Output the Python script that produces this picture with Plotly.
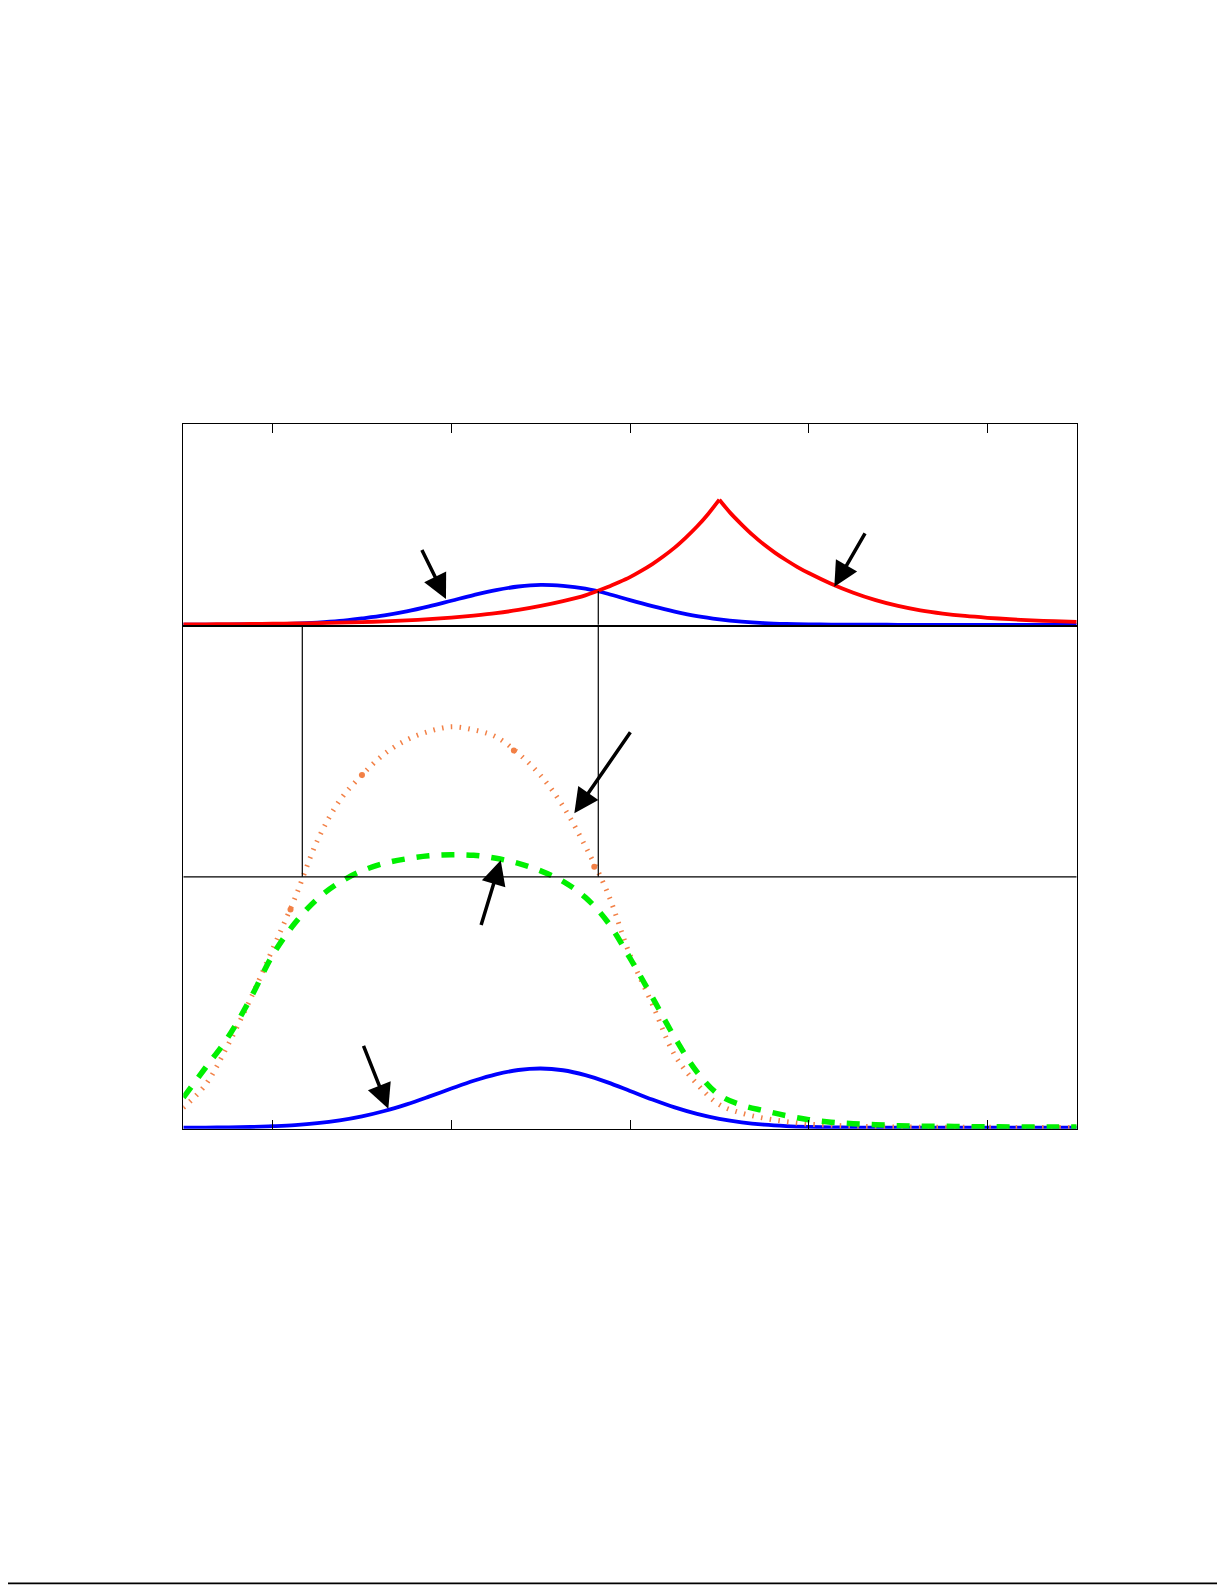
import plotly.graph_objects as go

# ---------------- data ----------------
x_grid = [0.0, 0.25, 0.5, 0.75, 1.0, 1.25, 1.5, 1.75, 2.0, 2.25, 2.5, 2.75,
          3.0, 3.25, 3.5, 3.75, 4.0, 4.25, 4.5, 4.75, 5.0, 5.25, 5.5, 5.75,
          6.0, 6.25, 6.5, 6.75, 7.0, 7.25, 7.5, 7.75, 8.0, 8.25, 8.5, 8.75,
          9.0, 9.25, 9.5, 9.75, 10.0]

# upper panel
top_blue = [0.0004, 0.0006, 0.0012, 0.002, 0.0035, 0.006, 0.011, 0.019, 0.032,
            0.047, 0.067, 0.092, 0.12, 0.148, 0.173, 0.191, 0.199, 0.194,
            0.18, 0.155, 0.123, 0.093, 0.066, 0.043, 0.027, 0.016, 0.0088,
            0.0046, 0.0022, 0.001, 0.0004, 0.0002, 0.0001, 0, 0, 0, 0, 0, 0,
            0, 0]

# red curve: rising part and falling part (they share the peak at x = 6)
red_rise_x = [0.0, 0.25, 0.5, 0.75, 1.0, 1.25, 1.5, 1.75, 2.0, 2.25, 2.5, 2.75,
              3.0, 3.25, 3.5, 3.75, 4.0, 4.25, 4.5, 4.75, 4.875, 5.0, 5.125,
              5.25, 5.375, 5.5, 5.625, 5.75, 5.875, 6.0]
red_rise_y = [0.002, 0.0025, 0.0032, 0.004, 0.0051, 0.0065, 0.0083, 0.0105,
              0.0134, 0.017, 0.022, 0.028, 0.036, 0.046, 0.058, 0.074, 0.094,
              0.118, 0.147, 0.188, 0.212, 0.238, 0.269, 0.303, 0.342, 0.385,
              0.435, 0.49, 0.553, 0.624]
red_fall_x = [6.0, 6.125, 6.25, 6.375, 6.5, 6.625, 6.75, 6.875, 7.0, 7.25, 7.5,
              7.75, 8.0, 8.25, 8.5, 8.75, 9.0, 9.25, 9.5, 9.75, 10.0]
red_fall_y = [0.624, 0.557, 0.500, 0.447, 0.400, 0.359, 0.322, 0.288, 0.258,
              0.205, 0.160, 0.123, 0.094, 0.072, 0.056, 0.044, 0.035, 0.028,
              0.022, 0.018, 0.015]

# lower panel
bot_blue = [0.0002, 0.0003, 0.0006, 0.0014, 0.003, 0.0052, 0.0089, 0.0146,
            0.0226, 0.0333, 0.0466, 0.0619, 0.078, 0.0935, 0.1064, 0.115,
            0.118, 0.1145, 0.1048, 0.0903, 0.0733, 0.0561, 0.0404, 0.0275,
            0.0176, 0.0106, 0.006, 0.0032, 0.0016, 0.0007, 0.0003, 0.0001,
            0, 0, 0, 0, 0, 0, 0, 0, 0]
bot_orange = [0.04, 0.086, 0.165, 0.256, 0.356, 0.458, 0.572, 0.652, 0.703,
              0.745, 0.773, 0.79, 0.799, 0.793, 0.779, 0.746, 0.702, 0.641,
              0.561, 0.468, 0.344, 0.246, 0.145, 0.087, 0.046, 0.029, 0.019,
              0.012, 0.007, 0.005, 0.003, 0.002, 0.0015, 0.001, 0.001, 0.001,
              0.001, 0.0005, 0.0005, 0.0005, 0.0005]
bot_green = [0.06, 0.12, 0.18, 0.257, 0.344, 0.408, 0.456, 0.489, 0.512,
             0.527, 0.536, 0.542, 0.544, 0.543, 0.537, 0.527, 0.512, 0.491,
             0.459, 0.41, 0.338, 0.26, 0.18, 0.111, 0.065, 0.045, 0.034,
             0.024, 0.016, 0.011, 0.008, 0.006, 0.004, 0.003, 0.003, 0.002,
             0.002, 0.0015, 0.0015, 0.0015, 0.0015]

orange_dot_x = [1.2, 2.0, 3.7, 4.6]
orange_dot_y = [0.435, 0.703, 0.752, 0.52]

tick_vals = [1, 3, 5, 7, 9]

guide_x = [1.332, 4.645]      # vertical guide lines
top_guide_y = 0.168           # height of the guide in the upper panel
mid_level = 0.5               # horizontal guide in the lower panel

arrow_panel = ["top", "top", "bottom", "bottom", "bottom"]
arrow_tip_x = [2.94, 7.287, 4.377, 3.553, 2.295]
arrow_tip_y = [0.129, 0.19, 0.627, 0.533, 0.038]
arrow_tail_x = [2.668, 7.634, 5.008, 3.332, 2.015]
arrow_tail_y = [0.376, 0.459, 0.789, 0.403, 0.164]

# ---------------- styles ----------------
BLUE = "rgb(0,0,255)"
RED = "rgb(255,0,0)"
GREEN = "rgb(0,240,0)"
ORANGE = "rgb(242,128,70)"

# the page body adds an 8 px offset; size/positions compensate for it
OFF = 8
W, H = 1225 - OFF, 1585 - OFF
X_DOM = [(183.3 - OFF) / W, (1076.7 - OFF) / W]
TOP_DOM = [1 - (626 - OFF) / H, 1 - (424.3 - OFF) / H]
BOT_DOM = [1 - (1128.7 - OFF) / H, 1 - (626 - OFF) / H]
RULE_Y = 1 - (1583.4 - OFF) / H

fig = go.Figure()

fig.add_trace(go.Scatter(x=x_grid, y=top_blue, mode="lines", xaxis="x", yaxis="y",
                         line=dict(color=BLUE, width=3.8, shape="spline"), showlegend=False))
for rx, ry in ((red_rise_x, red_rise_y), (red_fall_x, red_fall_y)):
    fig.add_trace(go.Scatter(x=rx, y=ry, mode="lines", xaxis="x", yaxis="y",
                             line=dict(color=RED, width=3.8, shape="spline", smoothing=0.8),
                             showlegend=False))

fig.add_trace(go.Scatter(x=x_grid, y=bot_blue, mode="lines", xaxis="x2", yaxis="y2",
                         line=dict(color=BLUE, width=3.8, shape="spline"), showlegend=False))
fig.add_trace(go.Scatter(x=x_grid, y=bot_orange, mode="lines", xaxis="x2", yaxis="y2",
                         line=dict(color=ORANGE, width=5, dash="1.5px,7.3px", shape="spline"),
                         showlegend=False))
fig.add_trace(go.Scatter(x=x_grid, y=bot_green, mode="lines", xaxis="x2", yaxis="y2",
                         line=dict(color=GREEN, width=5.5, dash="13px,12px", shape="spline"),
                         showlegend=False))
fig.add_trace(go.Scatter(x=orange_dot_x, y=orange_dot_y, mode="markers", xaxis="x2", yaxis="y2",
                         marker=dict(color=ORANGE, size=6, line=dict(width=0)), showlegend=False))

# guide lines
LINE = dict(color="black", width=1.2)
fig.add_shape(type="line", xref="x", yref="y", x0=guide_x[1], x1=guide_x[1],
              y0=0, y1=top_guide_y, line=LINE)
for gx in guide_x:
    fig.add_shape(type="line", xref="x2", yref="y2", x0=gx, x1=gx,
                  y0=mid_level, y1=1, line=LINE)
fig.add_shape(type="line", xref="x2", yref="y2", x0=0, x1=10,
              y0=mid_level, y1=mid_level, line=LINE)

# page bottom rule
fig.add_shape(type="line", xref="paper", yref="paper", x0=-0.01, x1=1.01,
              y0=RULE_Y, y1=RULE_Y, line=dict(color="black", width=1.6))

# arrows
for p, tx, ty, ax, ay in zip(arrow_panel, arrow_tip_x, arrow_tip_y, arrow_tail_x, arrow_tail_y):
    xr, yr = ("x", "y") if p == "top" else ("x2", "y2")
    fig.add_annotation(x=tx, y=ty, xref=xr, yref=yr, ax=ax, ay=ay, axref=xr, ayref=yr,
                       text="", showarrow=True, arrowhead=2, arrowsize=1.4,
                       arrowwidth=3.5, arrowcolor="black", standoff=0,
                       font=dict(size=1), borderpad=0)

axis_common = dict(showgrid=False, zeroline=False, showline=True, linecolor="black",
                   linewidth=1.3, mirror=True, showticklabels=False)

fig.update_layout(
    width=W, height=H, autosize=False,
    margin=dict(l=0, r=0, t=0, b=0),
    paper_bgcolor="white", plot_bgcolor="white",
    showlegend=False,
    xaxis=dict(domain=X_DOM, anchor="y", range=[0, 10], side="top",
               tickvals=tick_vals, ticks="inside", ticklen=9, tickwidth=1.3,
               tickcolor="black", **axis_common),
    yaxis=dict(domain=TOP_DOM, anchor="x", range=[-0.006, 1.0], ticks="", **axis_common),
    xaxis2=dict(domain=X_DOM, anchor="y2", range=[0, 10], side="bottom",
                tickvals=tick_vals, ticks="inside", ticklen=9, tickwidth=1.3,
                tickcolor="black", **axis_common),
    yaxis2=dict(domain=BOT_DOM, anchor="x2", range=[-0.002, 1.0], ticks="", **axis_common),
)

fig.write_html("out.html")
